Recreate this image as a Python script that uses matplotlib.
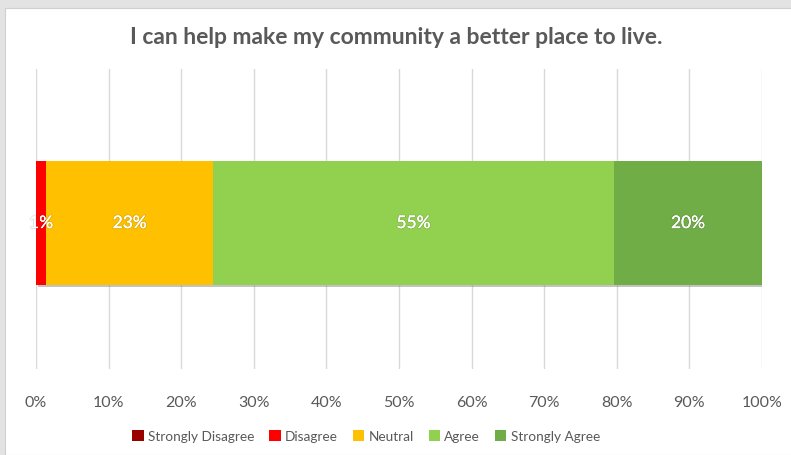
import matplotlib.pyplot as plt
import matplotlib.patheffects as pe
from matplotlib.patches import Rectangle, Patch

plt.rcParams['font.family'] = ['Lato', 'DejaVu Sans']

categories = ["Strongly Disagree", "Disagree", "Neutral", "Agree", "Strongly Agree"]
values = [0.0, 1.4, 23.0, 55.2, 20.4]
colors = ["#990000", "#ff0000", "#ffc000", "#92d050", "#70ad47"]
ticks = list(range(0, 101, 10))

fig = plt.figure(figsize=(7.91, 4.56), dpi=100)
fig.patch.set_facecolor("#e3e3e3")
fig.patches.append(Rectangle((5 / 791, 0), 1, 1 - 9 / 456, transform=fig.transFigure,
                             facecolor="white", edgecolor="#d0d0d0", lw=0.8, zorder=-10))

ax = fig.add_axes([36 / 791, 1 - 370 / 456, 726 / 791, 300 / 456])
ax.set_facecolor("none")

shadow = [pe.SimplePatchShadow(offset=(1.5, -1.5), shadow_rgbFace="#888888", alpha=0.5), pe.Normal()]

left = 0
for cat, v, c in zip(categories, values, colors):
    if v > 0:
        b = ax.barh(0, v, left=left, height=0.826, color=c, label=cat, zorder=3)
        for p in b.patches:
            p.set_path_effects(shadow)
        ax.text(left + v / 2, 0, f"{round(v):.0f}%", ha="center", va="center",
                color="white", fontsize=12.5, zorder=4,
                path_effects=[pe.withStroke(linewidth=1.5, foreground=(0.3, 0.3, 0.3, 0.15)), pe.Normal()])
    left += v

ax.set_xlim(0, 100)
ax.set_ylim(-0.973, 1.027)
ax.set_xticks(ticks)
ax.set_xticklabels([f"{t}%" for t in ticks], color="#595959", fontsize=11.5)
ax.tick_params(axis="x", length=0, pad=19)
ax.set_yticks([])
ax.grid(axis="x", color="#d9d9d9", lw=1, zorder=0)
for s in ax.spines.values():
    s.set_visible(False)

fig.text(396 / 791, 1 - 38 / 456, "I can help make my community a better place to live.",
         ha="center", va="center", fontsize=16.5, fontweight="bold", color="#595959")

handles = [Patch(facecolor=c, label=cat) for cat, c in zip(categories, colors)]
fig.legend(handles=handles, loc="center", bbox_to_anchor=(366 / 791, 1 - 437 / 456),
           ncol=5, frameon=False, fontsize=9.8, handlelength=0.85, handleheight=0.85,
           handletextpad=0.3, columnspacing=1.1, labelcolor="#595959")

fig.savefig("out.png", dpi=100, facecolor=fig.get_facecolor())
